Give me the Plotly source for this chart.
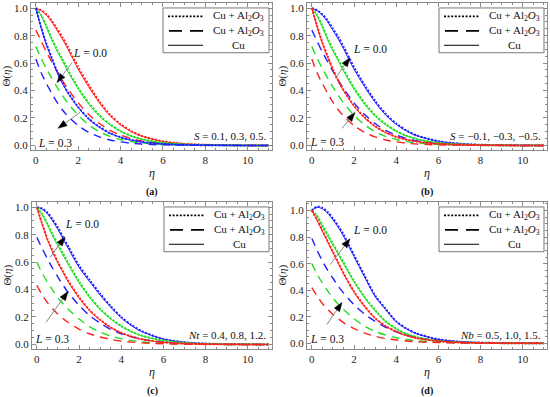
import plotly.graph_objects as go

# ---------------- data ----------------
ETA = [0, 0.25, 0.5, 0.75, 1, 1.25, 1.5, 2, 2.5, 3, 3.5, 4, 4.5, 5, 6, 7, 8, 9, 10, 11]

# panel (a)  S = 0.1, 0.3, 0.5
a_r_dot = [1.0, 0.985, 0.955, 0.91, 0.85, 0.79, 0.72, 0.57, 0.44, 0.32, 0.225, 0.155, 0.105, 0.07, 0.03, 0.012, 0.005, 0.002, 0.001, 0.0]
a_r_sol = [1.0, 0.982, 0.948, 0.90, 0.838, 0.775, 0.705, 0.555, 0.425, 0.31, 0.217, 0.15, 0.101, 0.067, 0.029, 0.012, 0.005, 0.002, 0.001, 0.0]
a_g_dot = [1.0, 0.95, 0.87, 0.78, 0.70, 0.63, 0.555, 0.42, 0.31, 0.22, 0.155, 0.105, 0.07, 0.046, 0.019, 0.008, 0.003, 0.001, 0.0, 0.0]
a_g_sol = [1.0, 0.945, 0.86, 0.77, 0.688, 0.617, 0.543, 0.41, 0.30, 0.213, 0.15, 0.102, 0.068, 0.045, 0.019, 0.008, 0.003, 0.001, 0.0, 0.0]
a_b_dot = [1.0, 0.86, 0.74, 0.64, 0.54, 0.46, 0.39, 0.28, 0.195, 0.135, 0.09, 0.06, 0.04, 0.026, 0.011, 0.004, 0.002, 0.001, 0.0, 0.0]
a_b_sol = [1.0, 0.855, 0.733, 0.632, 0.533, 0.453, 0.384, 0.275, 0.191, 0.132, 0.088, 0.059, 0.039, 0.025, 0.011, 0.004, 0.002, 0.001, 0.0, 0.0]
a_r_dash = [0.84, 0.76, 0.68, 0.61, 0.54, 0.475, 0.415, 0.31, 0.225, 0.16, 0.11, 0.075, 0.05, 0.033, 0.014, 0.006, 0.002, 0.001, 0.0, 0.0]
a_g_dash = [0.72, 0.635, 0.56, 0.49, 0.425, 0.365, 0.31, 0.22, 0.15, 0.10, 0.066, 0.043, 0.028, 0.018, 0.007, 0.003, 0.001, 0.0, 0.0, 0.0]
a_b_dash = [0.63, 0.53, 0.45, 0.38, 0.315, 0.26, 0.215, 0.145, 0.095, 0.062, 0.04, 0.026, 0.016, 0.01, 0.004, 0.002, 0.001, 0.0, 0.0, 0.0]

# panel (b)  S = -0.1, -0.3, -0.5
b_b_dot = [1.0, 0.985, 0.955, 0.91, 0.85, 0.79, 0.72, 0.57, 0.44, 0.325, 0.23, 0.16, 0.108, 0.072, 0.031, 0.013, 0.005, 0.002, 0.001, 0.0]
b_b_sol = [1.0, 0.982, 0.948, 0.90, 0.838, 0.775, 0.705, 0.555, 0.428, 0.315, 0.222, 0.154, 0.104, 0.069, 0.03, 0.012, 0.005, 0.002, 0.001, 0.0]
b_g_dot = [1.0, 0.95, 0.87, 0.78, 0.70, 0.63, 0.555, 0.42, 0.31, 0.22, 0.155, 0.105, 0.07, 0.046, 0.019, 0.008, 0.003, 0.001, 0.0, 0.0]
b_g_sol = [1.0, 0.945, 0.86, 0.77, 0.688, 0.617, 0.543, 0.41, 0.30, 0.213, 0.15, 0.102, 0.068, 0.045, 0.019, 0.008, 0.003, 0.001, 0.0, 0.0]
b_r_dot = [1.0, 0.87, 0.75, 0.65, 0.555, 0.475, 0.405, 0.29, 0.205, 0.14, 0.095, 0.063, 0.042, 0.028, 0.012, 0.005, 0.002, 0.001, 0.0, 0.0]
b_r_sol = [1.0, 0.865, 0.743, 0.642, 0.547, 0.467, 0.398, 0.285, 0.2, 0.137, 0.093, 0.062, 0.041, 0.027, 0.012, 0.005, 0.002, 0.001, 0.0, 0.0]
b_b_dash = [0.84, 0.76, 0.68, 0.61, 0.54, 0.475, 0.415, 0.31, 0.225, 0.16, 0.11, 0.075, 0.05, 0.033, 0.014, 0.006, 0.002, 0.001, 0.0, 0.0]
b_g_dash = [0.72, 0.635, 0.56, 0.49, 0.425, 0.365, 0.31, 0.22, 0.15, 0.10, 0.066, 0.043, 0.028, 0.018, 0.007, 0.003, 0.001, 0.0, 0.0, 0.0]
b_r_dash = [0.63, 0.53, 0.45, 0.38, 0.315, 0.26, 0.215, 0.145, 0.095, 0.062, 0.04, 0.026, 0.016, 0.01, 0.004, 0.002, 0.001, 0.0, 0.0, 0.0]

# panel (c)  Nt = 0.4, 0.8, 1.2
c_b_dot = [1.0, 0.99, 0.96, 0.91, 0.85, 0.78, 0.71, 0.575, 0.47, 0.37, 0.28, 0.2, 0.14, 0.095, 0.04, 0.016, 0.006, 0.002, 0.001, 0.0]
c_b_sol = [1.0, 0.987, 0.953, 0.90, 0.838, 0.767, 0.697, 0.562, 0.458, 0.36, 0.272, 0.194, 0.136, 0.092, 0.039, 0.016, 0.006, 0.002, 0.001, 0.0]
c_g_dot = [1.0, 0.95, 0.88, 0.80, 0.73, 0.66, 0.59, 0.46, 0.35, 0.26, 0.19, 0.135, 0.094, 0.063, 0.028, 0.011, 0.004, 0.002, 0.001, 0.0]
c_g_sol = [1.0, 0.945, 0.872, 0.79, 0.718, 0.648, 0.578, 0.45, 0.342, 0.254, 0.185, 0.131, 0.091, 0.061, 0.027, 0.011, 0.004, 0.002, 0.001, 0.0]
c_r_dot = [1.0, 0.88, 0.77, 0.68, 0.60, 0.53, 0.46, 0.345, 0.25, 0.18, 0.125, 0.085, 0.057, 0.037, 0.015, 0.006, 0.002, 0.001, 0.0, 0.0]
c_r_sol = [1.0, 0.875, 0.763, 0.672, 0.592, 0.522, 0.453, 0.339, 0.246, 0.177, 0.123, 0.084, 0.056, 0.036, 0.015, 0.006, 0.002, 0.001, 0.0, 0.0]
c_b_dash = [0.78, 0.70, 0.625, 0.555, 0.49, 0.43, 0.375, 0.285, 0.21, 0.155, 0.11, 0.078, 0.055, 0.037, 0.016, 0.007, 0.003, 0.001, 0.0, 0.0]
c_g_dash = [0.60, 0.52, 0.455, 0.395, 0.34, 0.295, 0.255, 0.185, 0.13, 0.09, 0.062, 0.042, 0.028, 0.018, 0.008, 0.003, 0.001, 0.0, 0.0, 0.0]
c_r_dash = [0.43, 0.36, 0.305, 0.26, 0.22, 0.187, 0.158, 0.112, 0.078, 0.054, 0.037, 0.025, 0.017, 0.011, 0.005, 0.002, 0.001, 0.0, 0.0, 0.0]

# panel (d)  Nb = 0.5, 1.0, 1.5
d_b_dot = [1.0, 1.03, 1.02, 0.99, 0.94, 0.885, 0.82, 0.665, 0.51, 0.36, 0.26, 0.165, 0.11, 0.072, 0.03, 0.012, 0.005, 0.002, 0.001, 0.0]
d_b_sol = [1.0, 1.025, 1.013, 0.98, 0.93, 0.873, 0.808, 0.652, 0.5, 0.353, 0.254, 0.161, 0.107, 0.07, 0.029, 0.012, 0.005, 0.002, 0.001, 0.0]
d_g_dot = [1.0, 0.96, 0.89, 0.82, 0.75, 0.68, 0.61, 0.47, 0.35, 0.25, 0.165, 0.11, 0.07, 0.045, 0.018, 0.007, 0.003, 0.001, 0.0, 0.0]
d_g_sol = [1.0, 0.955, 0.882, 0.81, 0.74, 0.67, 0.6, 0.462, 0.343, 0.245, 0.162, 0.108, 0.069, 0.044, 0.018, 0.007, 0.003, 0.001, 0.0, 0.0]
d_r_dot = [1.0, 0.93, 0.85, 0.77, 0.69, 0.61, 0.53, 0.39, 0.28, 0.19, 0.13, 0.088, 0.058, 0.038, 0.016, 0.006, 0.002, 0.001, 0.0, 0.0]
d_r_sol = [1.0, 0.926, 0.844, 0.763, 0.683, 0.603, 0.524, 0.385, 0.276, 0.187, 0.128, 0.087, 0.057, 0.037, 0.016, 0.006, 0.002, 0.001, 0.0, 0.0]
d_b_dash = [0.79, 0.70, 0.62, 0.55, 0.49, 0.43, 0.38, 0.29, 0.22, 0.165, 0.12, 0.087, 0.062, 0.044, 0.02, 0.009, 0.004, 0.002, 0.001, 0.0]
d_g_dash = [0.60, 0.52, 0.455, 0.395, 0.34, 0.295, 0.255, 0.185, 0.13, 0.09, 0.062, 0.042, 0.028, 0.018, 0.008, 0.003, 0.001, 0.0, 0.0, 0.0]
d_r_dash = [0.42, 0.355, 0.30, 0.256, 0.217, 0.185, 0.156, 0.11, 0.077, 0.053, 0.036, 0.025, 0.017, 0.011, 0.005, 0.002, 0.001, 0.0, 0.0, 0.0]

PANEL_LABELS = ["(a)", "(b)", "(c)", "(d)"]
PARAM_TEXT = ["<i>S</i> = 0.1, 0.3, 0.5.", "<i>S</i> = \u22120.1, \u22120.3, \u22120.5.",
              "<i>Nt</i> = 0.4, 0.8, 1.2.", "<i>Nb</i> = 0.5, 1.0, 1.5."]
LEG_TEXT = ["Cu + Al<sub>2</sub><i>O</i><sub>3</sub>", "Cu + Al<sub>2</sub><i>O</i><sub>3</sub>", "Cu"]
X_TICKS = [0, 2, 4, 6, 8, 10]
Y_TICKS = [0.0, 0.2, 0.4, 0.6, 0.8, 1.0]

# ---------------- layout helpers ----------------
W, H = 550, 397
FONT = "Liberation Serif, Times New Roman, Times, serif"
RED, GREEN, BLUE = "#ff2020", "#22dd22", "#2020ff"
DOT = "2px,1.6px"
DASH = "8px,6px"

# panel frames in pixels: (left, top, right, bottom)
FRAMES = [(31, 2, 272, 150), (307, 2, 547, 150), (32, 202, 272, 350), (307, 202, 547, 350)]
YRANGES = [[-0.035, 1.038], [-0.035, 1.038], [-0.035, 1.038], [-0.045, 1.065]]

panels = [
    [(a_r_dot, a_r_sol, a_r_dash, RED), (a_g_dot, a_g_sol, a_g_dash, GREEN), (a_b_dot, a_b_sol, a_b_dash, BLUE)],
    [(b_b_dot, b_b_sol, b_b_dash, BLUE), (b_g_dot, b_g_sol, b_g_dash, GREEN), (b_r_dot, b_r_sol, b_r_dash, RED)],
    [(c_b_dot, c_b_sol, c_b_dash, BLUE), (c_g_dot, c_g_sol, c_g_dash, GREEN), (c_r_dot, c_r_sol, c_r_dash, RED)],
    [(d_b_dot, d_b_sol, d_b_dash, BLUE), (d_g_dot, d_g_sol, d_g_dash, GREEN), (d_r_dot, d_r_sol, d_r_dash, RED)],
]

def px(x):
    return x / W

def py(y):
    return 1 - y / H

fig = go.Figure()
layout_axes = {}
annotations = []
shapes = []

def text(t, x, y, size=11, xanchor="center", angle=0, color="#111"):
    annotations.append(dict(text=t, x=px(x), y=py(y), xref="paper", yref="paper", xanchor=xanchor,
                            yanchor="middle", showarrow=False, textangle=angle,
                            font=dict(family=FONT, size=size, color=color)))

def pline(x0, y0, x1, y1, color, width, dash="solid"):
    shapes.append(dict(type="line", xref="paper", yref="paper", x0=px(x0), y0=py(y0), x1=px(x1), y1=py(y1),
                       line=dict(color=color, width=width, dash=dash)))

for i, (frame, curves) in enumerate(zip(FRAMES, panels)):
    n = i + 1
    xa = "x" if n == 1 else f"x{n}"
    ya = "y" if n == 1 else f"y{n}"
    for dot, sol, dash, col in curves:
        fig.add_trace(go.Scatter(x=ETA, y=sol, mode="lines", xaxis=xa, yaxis=ya, showlegend=False,
                                 line=dict(color=col, width=1, shape="spline", smoothing=0.8)))
        fig.add_trace(go.Scatter(x=ETA, y=dot, mode="lines", xaxis=xa, yaxis=ya, showlegend=False,
                                 line=dict(color=col, width=2, dash=DOT, shape="spline", smoothing=0.8)))
        fig.add_trace(go.Scatter(x=ETA, y=dash, mode="lines", xaxis=xa, yaxis=ya, showlegend=False,
                                 line=dict(color=col, width=1.4, dash=DASH, shape="spline", smoothing=0.8)))

    l, t, r, b = frame
    common = dict(showline=True, linecolor="#8a8a8a", linewidth=1, mirror="allticks",
                  ticks="inside", ticklen=4, tickcolor="#8a8a8a", showgrid=False, zeroline=False,
                  tickfont=dict(family=FONT, size=11, color="#222"))
    layout_axes["xaxis" if n == 1 else f"xaxis{n}"] = dict(
        domain=[px(l), px(r)], anchor=ya, range=[-0.23, 11.15], tickvals=X_TICKS,
        minor=dict(ticks="inside", ticklen=2, dtick=0.5, tick0=0, tickcolor="#8a8a8a"), **common)
    layout_axes["yaxis" if n == 1 else f"yaxis{n}"] = dict(
        domain=[py(b), py(t)], anchor=xa, range=YRANGES[i], tickvals=Y_TICKS, tickformat=".1f",
        minor=dict(ticks="inside", ticklen=2, dtick=0.05, tick0=0, tickcolor="#8a8a8a"), **common)

    # legend box drawn in the panel
    shapes.append(dict(type="rect", xref="paper", yref="paper", x0=px(l + 132), x1=px(r - 3),
                       y0=py(t + 50), y1=py(t + 5), line=dict(color="#777", width=1), fillcolor="white"))
    rows = [t + 13.5, t + 28, t + 42.5]
    pline(l + 137, rows[0], l + 172, rows[0], "black", 1.6, DOT)
    pline(l + 138, rows[1], l + 172, rows[1], "black", 1.6, "13px,8px")
    pline(l + 137, rows[2], l + 172, rows[2], "black", 1.0)
    text(LEG_TEXT[0], l + 180, rows[0], size=11, xanchor="left")
    text(LEG_TEXT[1], l + 180, rows[1], size=11, xanchor="left")
    text(LEG_TEXT[2], l + 207, rows[2], size=11)

    # axis titles and panel label
    cx = (l + r) / 2
    text("\u0398(<i>\u03b7</i>)", l - 24, (t + b) / 2, size=11, angle=-90, color="#222")
    text("<i>\u03b7</i>", cx, b + 23, size=12, color="#222")
    text("<b>" + PANEL_LABELS[i] + "</b>", cx, b + 42, size=10)
    text(PARAM_TEXT[i], r - 4, b - 14, size=11, xanchor="right")

# L labels and arrows: (text pos for L=0.0, text pos for L=0.3, arrow1 tail, head, arrow2 tail, head)
L_ANN = [
    ((90, 52), (55, 143), (72, 62), (57, 82), (80, 112), (58, 128)),
    ((370, 48), (327, 142), (335, 78), (350, 57), (342, 128), (355, 112)),
    ((82, 224), (52, 340), (50, 258), (65, 237), (46, 323), (68, 292)),
    ((370, 230), (327, 340), (330, 265), (350, 239), (327, 325), (342, 303)),
]
for t0, t3, tail1, head1, tail2, head2 in L_ANN:
    text("<i>L</i> = 0.0", t0[0], t0[1], size=11.5)
    text("<i>L</i> = 0.3", t3[0], t3[1], size=11.5)
    for tail, head in ((tail1, head1), (tail2, head2)):
        dx, dy = head[0] - tail[0], head[1] - tail[1]
        L = (dx * dx + dy * dy) ** 0.5
        ux, uy = dx / L, dy / L
        bx, by = head[0] - 9 * ux, head[1] - 9 * uy
        nx, ny = -uy, ux
        pline(tail[0], tail[1], bx, by, "#888", 1)
        pts = [(head[0], head[1]), (bx + 3.2 * nx, by + 3.2 * ny), (bx - 3.2 * nx, by - 3.2 * ny)]
        path = "M " + " L ".join(f"{px(x):.5f},{py(y):.5f}" for x, y in pts) + " Z"
        shapes.append(dict(type="path", xref="paper", yref="paper", path=path,
                           fillcolor="black", line=dict(color="black", width=0.5)))

fig.update_layout(width=W, height=H, margin=dict(l=0, r=0, t=0, b=0),
                  paper_bgcolor="white", plot_bgcolor="white", annotations=annotations,
                  shapes=shapes, **layout_axes)
fig.write_html("out.html", config={"displayModeBar": False},
               post_script="document.body.style.margin='0px';")
